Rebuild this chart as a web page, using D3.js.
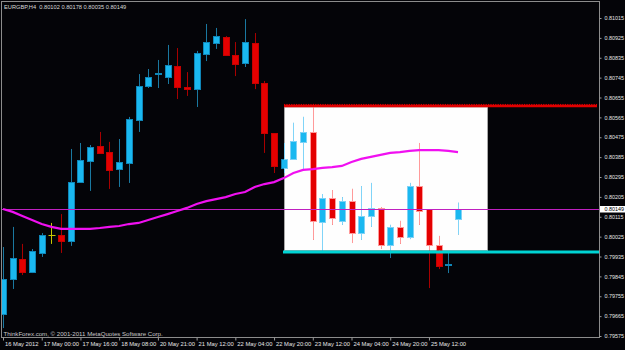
<!DOCTYPE html>
<html>
<head>
<meta charset="utf-8">
<script src="https://cdn.jsdelivr.net/npm/d3@7"></script>
<style>
  body { margin: 0; background: #040408; }
  text { font-family: "Liberation Sans", Arial, sans-serif; }
</style>
</head>
<body>
<svg id="chart"></svg>
<script>
// EURGBP H4 bars (oldest first)
const opens  = [0.79675,0.79833,0.79924,0.79865,0.79951,0.80032,0.80032,0.80005,0.80272,0.80368,
                0.80435,0.80408,0.80331,0.80358,0.80553,0.80707,0.80759,0.80748,0.80798,0.80703,
                0.80693,0.80852,0.80902,0.80929,0.80847,0.80811,0.80902,0.80721,0.80494,0.80336,
                0.80377,0.80454,0.80499,0.80091,0.80200,0.80096,0.80186,0.80041,0.80118,0.80155,
                0.79987,0.80069,0.80023,0.80254,0.80150,0.79987,0.79894,0.80102];
const highs  = [0.79978,0.80069,0.79992,0.79969,0.80041,0.80087,0.80127,0.80422,0.80449,0.80440,
                0.80499,0.80454,0.80467,0.80567,0.80761,0.80784,0.80825,0.80893,0.80879,0.80770,
                0.80866,0.80988,0.80970,0.80933,0.80906,0.81010,0.80947,0.80730,0.80494,0.80449,
                0.80540,0.80567,0.80626,0.80218,0.80236,0.80204,0.80241,0.80254,0.80268,0.80159,
                0.80078,0.80096,0.80268,0.80449,0.80150,0.80028,0.79951,0.80178];
const lows   = [0.79611,0.79788,0.79851,0.79860,0.79933,0.79992,0.79951,0.79983,0.80268,0.80232,
                0.80399,0.80241,0.80250,0.80268,0.80499,0.80698,0.80698,0.80716,0.80648,0.80662,
                0.80612,0.80820,0.80875,0.80843,0.80752,0.80793,0.80693,0.80404,0.80313,0.80313,
                0.80372,0.80327,0.80010,0.79960,0.80078,0.80078,0.79996,0.80010,0.80069,0.79969,
                0.79928,0.79992,0.80014,0.80078,0.79792,0.79878,0.79860,0.80035];
const closes = [0.79833,0.79928,0.79865,0.79960,0.80032,0.80032,0.80005,0.80272,0.80372,0.80431,
                0.80404,0.80327,0.80363,0.80558,0.80707,0.80748,0.80764,0.80802,0.80703,0.80693,
                0.80857,0.80906,0.80933,0.80847,0.80807,0.80906,0.80721,0.80494,0.80345,0.80377,
                0.80458,0.80499,0.80096,0.80200,0.80109,0.80186,0.80041,0.80118,0.80155,0.79987,
                0.80069,0.80023,0.80254,0.80141,0.79987,0.79892,0.79899,0.80149];
// moving average, one value per bar
const maValues = [0.80150,0.80137,0.80118,0.80100,0.80082,0.80069,0.80060,0.80060,0.80060,0.80060,
                  0.80064,0.80069,0.80073,0.80082,0.80087,0.80100,0.80114,0.80127,0.80141,0.80155,
                  0.80173,0.80186,0.80195,0.80204,0.80218,0.80227,0.80250,0.80263,0.80272,0.80290,
                  0.80313,0.80327,0.80331,0.80336,0.80340,0.80345,0.80363,0.80377,0.80386,0.80395,
                  0.80404,0.80408,0.80413,0.80417,0.80417,0.80417,0.80413,0.80408];

const timeTicks  = [0, 4, 8, 12, 16, 20, 24, 28, 32, 36, 40, 44];
const timeLabels = ["16 May 2012", "17 May 00:00", "17 May 16:00", "18 May 08:00", "20 May 21:00",
                    "21 May 12:00", "22 May 04:00", "22 May 20:00", "23 May 12:00", "24 May 04:00",
                    "24 May 20:00", "25 May 12:00"];
const priceTicks = [0.81015, 0.80925, 0.80835, 0.80745, 0.80655, 0.80565, 0.80475, 0.80385,
                    0.80295, 0.80205, 0.80115, 0.80025, 0.79935, 0.79845, 0.79755, 0.79665, 0.79575];

const resistance = 0.80619;
const support = 0.79955;
const boxFrom = 29, boxTo = 50;   // bar indexes of the drawn rectangle

const W = 625, H = 350;
const plotRight = 599.5, plotBottom = 337.5;
const fmt = d3.format(".5f");
const last = closes.length - 1;

const svg = d3.select("#chart").attr("width", W).attr("height", H);
svg.append("rect").attr("width", W).attr("height", H).attr("fill", "#040408");

const x = d3.scaleLinear().domain([0, last]).range([3, 458]);
const y = d3.scaleLinear().domain([0.79575, 0.81015]).range([336, 18]);
const px = i => Math.round(x(i)) + 0.5;

const defs = svg.append("defs");
defs.append("clipPath").attr("id", "plot")
  .append("rect").attr("x", 2).attr("y", 2).attr("width", plotRight - 2.5).attr("height", plotBottom - 2.5);
defs.append("clipPath").attr("id", "box")
  .append("rect")
  .attr("x", Math.round(x(boxFrom))).attr("y", y(resistance) + 1.5)
  .attr("width", Math.round(x(boxTo)) - Math.round(x(boxFrom)))
  .attr("height", y(support) - y(resistance) - 3);

const plot = svg.append("g").attr("clip-path", "url(#plot)");

// white rectangle object
plot.append("rect")
  .attr("x", Math.round(x(boxFrom)) + 0.5).attr("y", y(resistance) + 1.5)
  .attr("width", Math.round(x(boxTo)) - Math.round(x(boxFrom)))
  .attr("height", y(support) - y(resistance) - 3)
  .attr("fill", "#fefefe").attr("stroke", "#a8a8a8");

const dark = { upFill: "#1ab8f0", upStroke: "#0f86b8", upWick: "#1a78a0",
               downFill: "#e40000", downStroke: "#c40000", downWick: "#a80000" };
const light = { upFill: "#1ab8f0", upStroke: "#7fd2f6", upWick: "#80d4f8",
                downFill: "#e40000", downStroke: "#ff9a9a", downWick: "#ff9a9a" };

function drawCandles(g, pal) {
  const bars = g.selectAll("g").data(d3.range(closes.length)).join("g");
  bars.append("line")
    .attr("x1", px).attr("x2", px)
    .attr("y1", i => y(highs[i])).attr("y2", i => y(lows[i]))
    .attr("stroke", i => opens[i] === closes[i] ? "#c8c800" : closes[i] > opens[i] ? pal.upWick : pal.downWick);
  bars.filter(i => opens[i] !== closes[i]).append("rect")
    .attr("x", i => px(i) - 3)
    .attr("y", i => Math.round(y(Math.max(opens[i], closes[i]))) + 0.5)
    .attr("width", 6)
    .attr("height", i => Math.max(1, Math.round(y(Math.min(opens[i], closes[i])) - y(Math.max(opens[i], closes[i])))))
    .attr("fill", i => closes[i] > opens[i] ? pal.upFill : pal.downFill)
    .attr("stroke", i => closes[i] > opens[i] ? pal.upStroke : pal.downStroke);
  bars.filter(i => opens[i] === closes[i]).append("line")
    .attr("x1", i => px(i) - 3).attr("x2", i => px(i) + 4)
    .attr("y1", i => Math.round(y(opens[i])) + 0.5).attr("y2", i => Math.round(y(opens[i])) + 0.5)
    .attr("stroke", "#c8c800");
}

drawCandles(plot.append("g"), dark);
drawCandles(plot.append("g").attr("clip-path", "url(#box)"), light);

// bid line
plot.append("line")
  .attr("x1", 2).attr("x2", plotRight)
  .attr("y1", Math.round(y(closes[last])) + 0.5).attr("y2", Math.round(y(closes[last])) + 0.5)
  .attr("stroke", "#c020c0");

// moving average
plot.append("path")
  .datum(maValues)
  .attr("d", d3.line().x((d, i) => x(i)).y(d => y(d)))
  .attr("fill", "none").attr("stroke", "#f010f0").attr("stroke-width", 2.2);

// horizontal levels
plot.append("line")
  .attr("x1", Math.round(x(boxFrom))).attr("x2", 597)
  .attr("y1", y(resistance) + 0.5).attr("y2", y(resistance) + 0.5)
  .attr("stroke", "#e00000").attr("stroke-width", 2.5);
plot.append("line")
  .attr("x1", Math.round(x(boxFrom))).attr("x2", 597)
  .attr("y1", y(resistance) - 1).attr("y2", y(resistance) - 1)
  .attr("stroke", "#e00000").attr("stroke-dasharray", "1.2,1.2");
plot.append("line")
  .attr("x1", Math.round(x(boxFrom)) - 1).attr("x2", plotRight)
  .attr("y1", y(support)).attr("y2", y(support))
  .attr("stroke", "#00d4d4").attr("stroke-width", 3);

// frame
svg.append("rect")
  .attr("x", 1.5).attr("y", 1.5).attr("width", plotRight - 1.5).attr("height", plotBottom - 1.5)
  .attr("fill", "none").attr("stroke", "#8c8c8c");

// price axis
const yAxis = svg.append("g")
  .attr("transform", `translate(${plotRight},0)`)
  .call(d3.axisRight(y).tickValues(priceTicks).tickSize(2).tickFormat(fmt));
yAxis.select(".domain").remove();
yAxis.selectAll("line").attr("stroke", "#9a9a9a");
yAxis.selectAll("text").attr("fill", "#e6e6e6").attr("font-size", "5.4px")
  .attr("font-family", "Liberation Sans, Arial, sans-serif");

// current price label
const yc = Math.round(y(closes[last]));
svg.append("rect").attr("x", 600).attr("y", yc - 3).attr("width", 25).attr("height", 6.5).attr("fill", "#ffffff");
svg.append("text").attr("x", 604.5).attr("y", yc + 2)
  .attr("font-size", "5.4px").attr("fill", "#000").text(fmt(closes[last]));

// time axis
const xAxis = svg.append("g")
  .attr("transform", `translate(0,${plotBottom})`)
  .call(d3.axisBottom(x).tickValues(timeTicks).tickSize(3).tickFormat((d, i) => timeLabels[i]));
xAxis.select(".domain").remove();
xAxis.selectAll("line").attr("stroke", "#9a9a9a");
xAxis.selectAll("text")
  .attr("fill", "#e6e6e6").attr("font-size", "5.8px")
  .attr("font-family", "Liberation Sans, Arial, sans-serif")
  .attr("text-anchor", "start").attr("x", 1.5).attr("y", 4);

// header and watermark
svg.append("text").attr("x", 4).attr("y", 9)
  .attr("font-size", "5.7px").attr("fill", "#d8d8d8").style("white-space", "pre")
  .text(`EURGBP,H4  ${fmt(opens[last])} ${fmt(highs[last])} ${fmt(lows[last])} ${fmt(closes[last])}`);
svg.append("text").attr("x", 3.5).attr("y", 336)
  .attr("font-size", "6.1px").attr("fill", "#c8c8c8")
  .text("ThinkForex.com, © 2001-2011 MetaQuotes Software Corp.");
</script>
</body>
</html>
